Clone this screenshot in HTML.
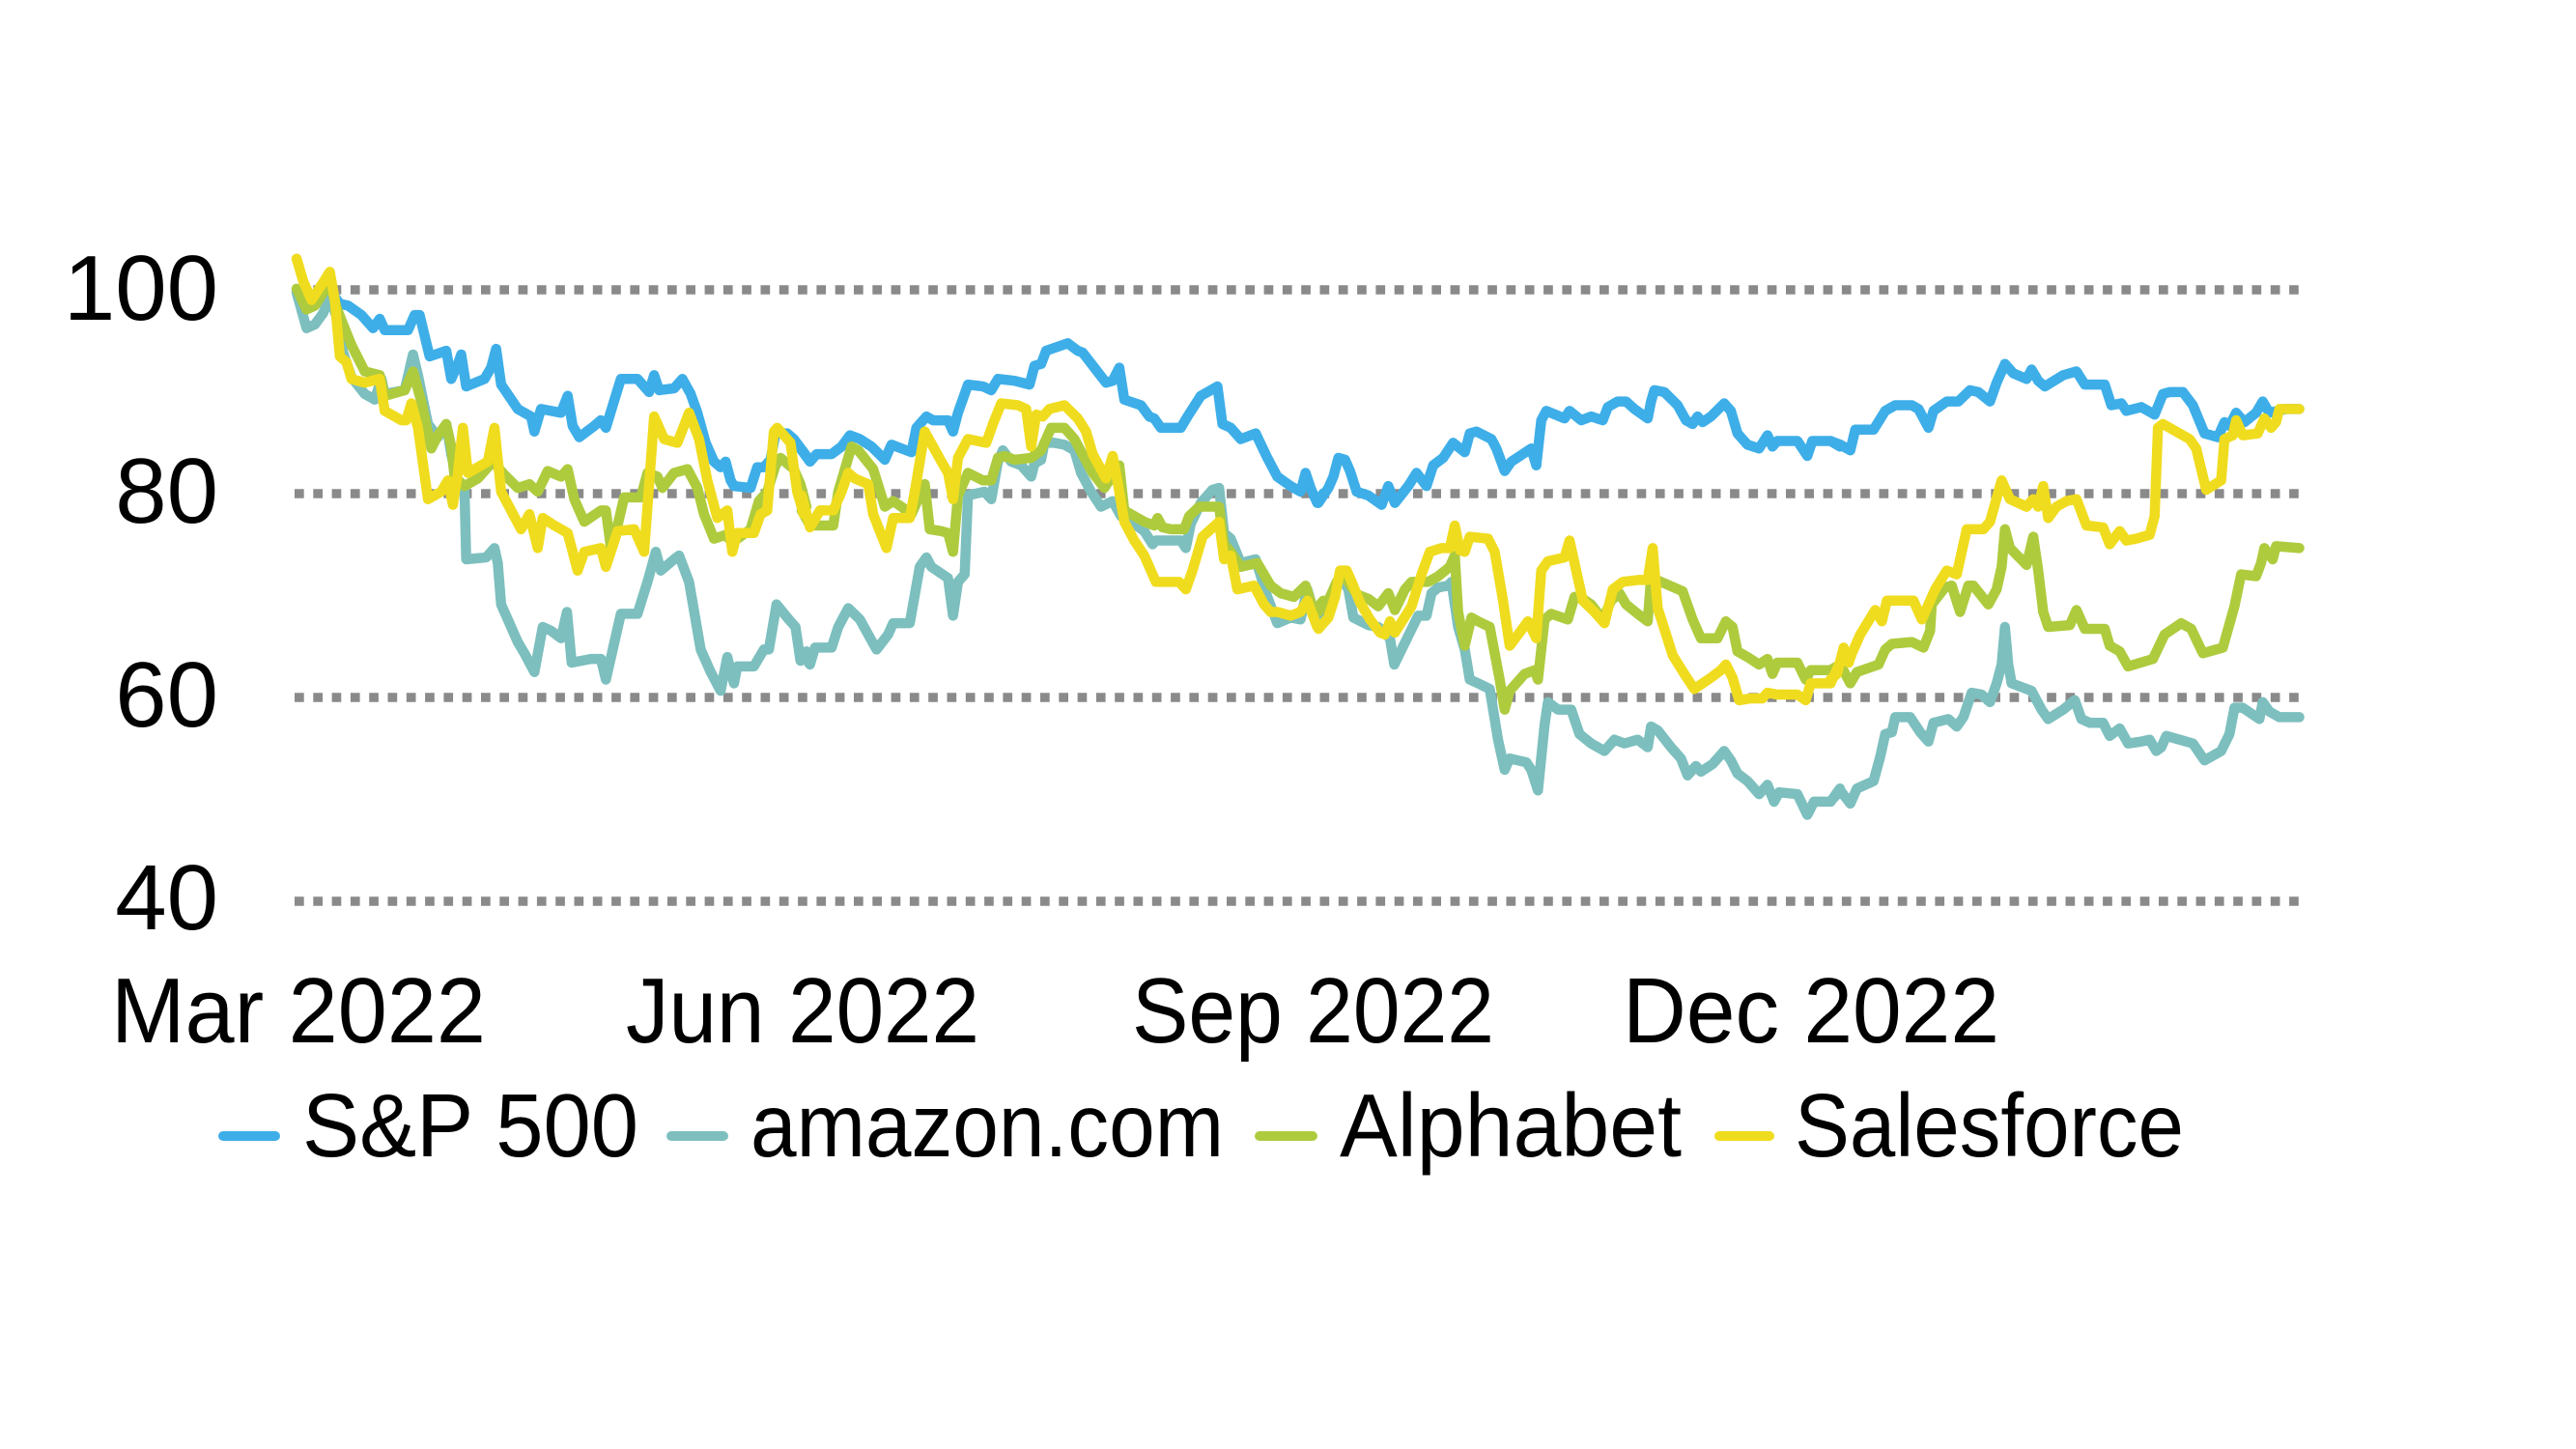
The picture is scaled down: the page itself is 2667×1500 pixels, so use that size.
<!DOCTYPE html>
<html>
<head>
<meta charset="utf-8">
<style>
  html,body{margin:0;padding:0;background:#ffffff;}
  svg{display:block;}
  text{font-family:"Liberation Sans",Arial,sans-serif;fill:#000;}
</style>
</head>
<body>
<svg xmlns="http://www.w3.org/2000/svg" width="2667" height="1500" viewBox="0 0 2667 1500">
  <rect x="0" y="0" width="2667" height="1500" fill="#ffffff"/>

  <!-- gridlines -->
  <g stroke="#8a8a8a" stroke-width="9.5" stroke-dasharray="9.7 9.6" fill="none">
    <line x1="305" y1="300" x2="2384" y2="300"/>
    <line x1="305" y1="511" x2="2384" y2="511"/>
    <line x1="305" y1="722" x2="2384" y2="722"/>
    <line x1="305" y1="933" x2="2384" y2="933"/>
  </g>

  <!-- y labels -->
  <g font-size="96" text-anchor="end">
    <text x="226" y="331">100</text>
    <text x="226" y="541">80</text>
    <text x="226" y="752">60</text>
    <text x="226" y="962">40</text>
  </g>

  <!-- x labels -->
  <g font-size="96">
    <text x="115" y="1079" textLength="388" lengthAdjust="spacingAndGlyphs">Mar 2022</text>
    <text x="648" y="1079" textLength="366" lengthAdjust="spacingAndGlyphs">Jun 2022</text>
    <text x="1172" y="1079" textLength="375" lengthAdjust="spacingAndGlyphs">Sep 2022</text>
    <text x="1680" y="1079" textLength="390" lengthAdjust="spacingAndGlyphs">Dec 2022</text>
  </g>

  <!-- series -->
  <g fill="none" stroke-width="10.5" stroke-linejoin="round" stroke-linecap="round">
    <!-- S&P 500 -->
    <g stroke="#3eaee8">
      <polyline vector-effect="non-scaling-stroke" transform="translate(295,260) scale(0.344353,0.389029)" points="35,103 60,125 90,135 120,120 140,110 165,140 190,145 230,170 265,205 285,180 300,210 370,210 390,170 405,170 435,280 485,265 500,340 520,300 530,275 545,360 600,340 620,310 635,260 650,355 700,420 740,440 750,480 770,420 830,430 850,385 865,465 885,495 930,465 950,450 965,470 1010,340 1060,340 1095,375 1110,330 1125,370 1170,365 1195,340 1220,380 1240,430 1265,510 1290,560 1310,575 1325,560 1340,610 1350,625 1400,630 1420,575 1440,575 1460,555 1475,485 1510,485 1530,500 1568,545"/>
      <polyline vector-effect="non-scaling-stroke" transform="translate(830,260) scale(0.344353,0.389029)" points="0,530 25,560 45,540 90,540 120,520 145,490 175,500 210,520 250,555 270,515 300,525 330,535 345,470 375,440 395,450 440,450 455,480 470,430 500,355 545,360 570,370 590,340 640,345 685,355 700,305 720,300 735,265 800,245 830,265 845,270 880,310 915,350 935,345 955,310 970,395 1020,410 1045,440 1060,445 1080,470 1140,470 1160,440 1200,385 1250,360 1265,460 1290,470 1320,500 1365,485 1400,550 1430,600 1470,625 1500,640 1515,590 1530,630 1550,670 1568,645"/>
      <polyline vector-effect="non-scaling-stroke" transform="translate(1365,260) scale(0.344353,0.389029)" points="0,670 30,630 45,600 60,550 80,555 95,585 115,640 150,650 190,675 210,625 230,670 270,625 295,590 325,625 345,570 375,550 405,510 440,535 455,485 475,480 520,500 535,525 560,585 580,560 640,525 655,570 670,450 685,425 740,445 755,425 790,450 820,440 855,450 870,415 900,400 925,400 950,420 990,445 1000,400 1010,370 1040,375 1080,410 1105,450 1125,460 1140,440 1155,455 1180,440 1220,405 1240,425 1260,485 1290,515 1325,525 1350,490 1365,520 1380,505 1440,505 1470,545 1485,505 1540,505 1568,520"/>
      <polyline vector-effect="non-scaling-stroke" transform="translate(1895,260) scale(0.344353,0.389029)" points="0,505 30,515 60,530 75,475 130,475 165,425 195,410 245,410 265,420 295,470 310,425 350,400 385,400 420,370 445,375 480,400 500,350 525,300 550,325 590,340 605,315 625,345 645,360 700,330 740,320 765,355 825,355 845,410 875,405 890,425 935,415 975,435 1000,380 1020,375 1060,375 1090,410 1125,485 1165,495 1185,455 1200,465 1220,430 1245,455 1280,430 1300,400 1320,430 1345,425 1370,420 1410,420"/>
    </g>
    <!-- amazon.com -->
    <g stroke="#7cbfbe">
      <polyline vector-effect="non-scaling-stroke" transform="translate(295,260) scale(0.344353,0.389029)" points="35,110 65,205 90,195 115,165 135,120 155,175 175,270 200,335 240,380 270,395 290,340 300,380 360,370 385,275 400,330 430,460 460,495 485,460 500,540 515,600 540,640 545,820 605,815 630,790 640,830 650,940 700,1040 720,1070 750,1120 775,1000 800,1010 830,1030 848,960 862,1095 920,1085 950,1085 965,1140 1010,965 1060,965 1090,880 1115,800 1130,850 1170,820 1185,810 1215,880 1250,1060 1280,1120 1310,1170 1330,1080 1350,1150 1360,1105 1410,1105 1440,1060 1455,1060 1478,940 1515,980 1535,1000 1550,1090 1568,1065"/>
      <polyline vector-effect="non-scaling-stroke" transform="translate(830,260) scale(0.344353,0.389029)" points="0,1070 25,1100 40,1055 90,1055 110,1000 140,950 175,980 225,1060 260,1020 275,990 325,990 355,840 375,815 390,840 440,870 455,970 470,880 490,860 500,650 550,640 570,660 590,560 605,530 630,560 660,570 690,600 700,565 720,555 730,510 760,510 790,515 820,530 840,590 870,640 900,680 935,665 960,705 990,720 1030,745 1055,780 1065,770 1100,770 1140,770 1155,790 1170,725 1200,670 1235,635 1255,630 1270,750 1290,765 1320,830 1365,820 1400,920 1430,990 1470,975 1500,980 1520,900 1550,990 1568,970"/>
      <polyline vector-effect="non-scaling-stroke" transform="translate(1365,260) scale(0.344353,0.389029)" points="0,975 30,935 70,870 90,900 105,975 150,995 180,1000 215,1030 228,1100 250,1060 300,970 325,970 340,910 360,895 390,890 400,880 420,1000 440,1060 455,1140 480,1150 515,1165 540,1300 560,1380 575,1350 625,1360 640,1380 660,1435 680,1260 690,1200 720,1220 760,1220 785,1285 820,1310 860,1330 890,1300 920,1310 960,1300 990,1320 1000,1265 1020,1275 1060,1320 1090,1350 1110,1395 1135,1370 1150,1385 1185,1365 1220,1330 1240,1355 1260,1390 1290,1410 1325,1445 1350,1420 1370,1465 1385,1440 1440,1445 1470,1500 1490,1465 1540,1465 1568,1430"/>
      <polyline vector-effect="non-scaling-stroke" transform="translate(1895,260) scale(0.344353,0.389029)" points="0,1465 30,1435 60,1470 80,1430 130,1410 150,1345 165,1285 185,1280 195,1240 240,1240 270,1280 295,1305 310,1255 355,1245 380,1265 400,1240 425,1175 455,1180 480,1200 500,1150 515,1100 525,1000 535,1100 545,1150 575,1160 605,1170 635,1220 655,1245 700,1220 735,1195 755,1245 780,1255 820,1255 840,1290 870,1270 895,1310 935,1305 960,1300 980,1330 995,1320 1010,1290 1050,1300 1090,1310 1125,1355 1175,1330 1200,1285 1215,1215 1240,1215 1290,1245 1300,1200 1320,1225 1350,1240 1410,1240"/>
    </g>
    <!-- Alphabet -->
    <g stroke="#aecb3e">
      <polyline vector-effect="non-scaling-stroke" transform="translate(295,260) scale(0.344353,0.389029)" points="35,100 65,155 90,145 115,110 135,80 155,150 175,195 200,250 240,320 285,330 300,385 360,370 385,320 410,400 440,525 460,490 485,460 500,520 510,600 540,625 580,605 625,560 660,595 700,630 735,620 760,640 790,585 830,600 850,580 870,660 900,720 950,690 965,690 980,790 1000,730 1020,655 1070,655 1090,590 1120,600 1135,630 1170,590 1210,580 1240,630 1260,700 1290,765 1325,755 1345,775 1400,740 1425,665 1450,640 1475,570 1490,550 1530,580 1550,620 1568,680"/>
      <polyline vector-effect="non-scaling-stroke" transform="translate(830,260) scale(0.344353,0.389029)" points="0,690 25,730 95,730 110,640 150,520 170,530 215,580 250,680 275,665 300,680 330,700 350,660 370,620 385,740 420,745 440,750 455,800 470,650 500,590 545,610 570,610 590,550 610,545 640,555 690,550 720,530 750,470 790,470 820,500 850,550 875,590 910,630 955,570 970,690 1030,720 1060,730 1070,710 1085,735 1110,740 1150,740 1165,705 1195,680 1255,680 1270,780 1290,800 1320,840 1370,830 1410,890 1440,910 1480,920 1515,890 1540,960 1568,930"/>
      <polyline vector-effect="non-scaling-stroke" transform="translate(1365,260) scale(0.344353,0.389029)" points="0,960 30,930 55,880 75,860 100,895 120,915 150,925 180,945 210,910 230,955 260,900 280,880 330,880 360,865 395,840 410,810 420,960 440,1050 460,975 480,985 515,1000 545,1140 560,1220 575,1170 620,1125 650,1115 660,1140 680,980 700,965 750,980 770,920 795,925 820,940 855,980 880,930 905,910 925,940 960,965 990,985 1000,870 1030,880 1095,905 1125,980 1150,1030 1200,1030 1225,985 1245,1000 1260,1065 1290,1080 1325,1100 1350,1085 1365,1125 1380,1095 1440,1095 1465,1140 1480,1115 1540,1115 1568,1100"/>
      <polyline vector-effect="non-scaling-stroke" transform="translate(1895,260) scale(0.344353,0.389029)" points="0,1115 30,1100 60,1150 80,1120 145,1100 165,1060 185,1045 245,1040 280,1055 300,1010 305,940 345,895 365,890 390,960 415,890 430,890 475,940 500,900 515,840 525,740 540,790 590,835 610,760 625,850 640,960 655,1000 720,995 740,955 765,1005 825,1005 840,1050 870,1065 895,1105 970,1085 1005,1020 1055,990 1085,1005 1120,1070 1180,1055 1215,945 1235,860 1280,865 1295,830 1305,790 1330,820 1340,785 1410,790"/>
    </g>
    <!-- Salesforce -->
    <g stroke="#f0dc1e">
      <polyline vector-effect="non-scaling-stroke" transform="translate(295,260) scale(0.344353,0.389029)" points="35,20 55,80 80,130 110,90 135,55 150,130 165,280 185,295 200,340 240,350 285,340 300,425 350,450 365,450 380,405 400,470 430,660 470,640 490,610 505,675 520,590 535,470 550,590 590,570 610,560 630,470 650,640 710,740 735,700 760,790 775,710 810,730 850,750 880,850 900,800 950,790 965,840 1000,745 1050,740 1080,800 1090,680 1110,440 1140,500 1180,510 1215,430 1245,500 1270,610 1300,710 1330,690 1345,800 1360,750 1410,750 1430,700 1450,690 1470,480 1480,470 1520,510 1540,640 1560,700 1568,700"/>
      <polyline vector-effect="non-scaling-stroke" transform="translate(830,260) scale(0.344353,0.389029)" points="0,650 25,735 55,690 95,690 120,640 140,590 160,605 200,620 215,700 255,790 275,710 325,710 340,640 370,480 395,520 420,560 440,590 455,660 470,550 500,500 555,510 575,460 600,405 650,410 675,420 690,520 705,435 725,440 745,420 790,410 830,445 855,480 875,540 915,605 935,545 950,615 970,720 1000,770 1030,810 1065,880 1100,880 1135,880 1155,900 1175,850 1205,760 1255,720 1270,820 1290,810 1310,900 1360,890 1390,940 1410,960 1430,960 1470,970 1500,960 1520,930 1550,1000 1568,990"/>
      <polyline vector-effect="non-scaling-stroke" transform="translate(1365,260) scale(0.344353,0.389029)" points="0,1005 30,975 50,920 65,850 85,850 100,880 125,935 155,980 185,1015 200,1020 215,985 230,1015 255,980 280,945 310,860 335,800 370,790 395,790 410,730 425,795 440,800 455,760 510,765 530,800 555,930 575,1050 630,985 655,1030 670,850 690,825 740,815 755,770 770,830 795,930 830,960 860,990 885,900 915,880 960,875 990,875 1005,790 1020,950 1040,1005 1065,1075 1100,1125 1130,1165 1180,1135 1210,1115 1225,1100 1245,1135 1265,1195 1300,1190 1335,1190 1350,1175 1380,1180 1440,1180 1465,1195 1480,1150 1540,1150 1568,1095"/>
      <polyline vector-effect="non-scaling-stroke" transform="translate(1895,260) scale(0.344353,0.389029)" points="0,1140 20,1125 40,1055 55,1095 65,1070 90,1020 135,955 155,985 170,930 250,930 275,980 300,930 315,900 350,850 380,860 400,780 410,740 460,740 480,720 515,610 540,660 590,680 610,660 625,680 640,625 655,710 680,680 710,665 740,660 770,730 820,735 840,780 870,745 890,770 920,765 960,755 975,705 985,470 1000,460 1080,500 1100,525 1130,635 1175,610 1185,500 1210,490 1220,450 1240,490 1285,485 1305,445 1325,470 1340,455 1350,420 1410,420"/>
    </g>
  </g>

  <!-- legend -->
  <g stroke-width="10" stroke-linecap="round">
    <line x1="231" y1="1176" x2="285" y2="1176" stroke="#3eaee8"/>
    <line x1="695" y1="1176" x2="749" y2="1176" stroke="#7cbfbe"/>
    <line x1="1304" y1="1176" x2="1359" y2="1176" stroke="#aecb3e"/>
    <line x1="1780" y1="1176" x2="1832" y2="1176" stroke="#f0dc1e"/>
  </g>
  <g font-size="93">
    <text x="313" y="1197" textLength="348" lengthAdjust="spacingAndGlyphs">S&amp;P 500</text>
    <text x="777" y="1197" textLength="490" lengthAdjust="spacingAndGlyphs">amazon.com</text>
    <text x="1387" y="1197" textLength="354" lengthAdjust="spacingAndGlyphs">Alphabet</text>
    <text x="1858" y="1197" textLength="403" lengthAdjust="spacingAndGlyphs">Salesforce</text>
  </g>
</svg>
</body>
</html>
